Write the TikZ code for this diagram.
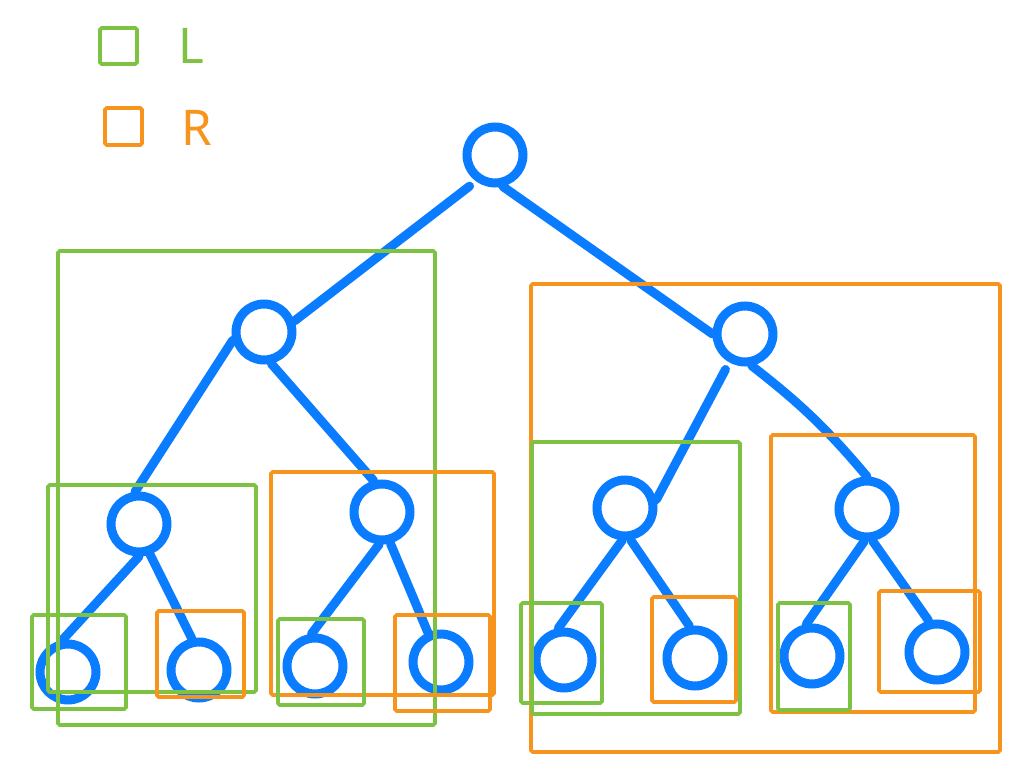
\documentclass[tikz,border=0pt]{standalone}
\usepackage{fontspec}
\setsansfont{Noto Sans}
\usepackage{xcolor}
\definecolor{treeblue}{RGB}{10,124,255}
\definecolor{lgreen}{RGB}{125,194,66}
\definecolor{rorange}{RGB}{247,148,29}

\begin{document}
\begin{tikzpicture}[x=0.2mm, y=-0.2mm,
  treenode/.style={circle, draw=treeblue, fill=white, line width=1.8mm, minimum size=11.2mm, inner sep=0pt},
  link/.style={draw=treeblue, line width=1.8mm, line cap=round},
  lbox/.style={draw=lgreen, line width=0.75mm, rounded corners=1pt},
  rbox/.style={draw=rorange, line width=0.75mm, rounded corners=1pt},
  legtext/.style={font=\sffamily\fontsize{28}{30}\selectfont}]
  \useasboundingbox (0,0) rectangle (1024,776);

  % Legend
  \draw[lbox] (100,28) rectangle (137,64);
  \node[legtext, lgreen] (legL) at (191,46) {L};
  \draw[rbox] (105,108) rectangle (142,145);
  \node[legtext, rorange] (legR) at (197,128) {R};

  % Tree nodes
  \node[treenode] (root) at (495,155) {};
  \node[treenode] (l) at (264,332) {};
  \node[treenode] (r) at (745,334) {};
  \node[treenode] (ll) at (139,524) {};
  \node[treenode] (lr) at (382,512) {};
  \node[treenode] (rl) at (625,508) {};
  \node[treenode] (rr) at (867,509) {};
  \node[treenode] (lll) at (68,672) {};
  \node[treenode] (llr) at (199,670) {};
  \node[treenode] (lrl) at (315,666) {};
  \node[treenode] (lrr) at (441,662) {};
  \node[treenode] (rll) at (564,660) {};
  \node[treenode] (rlr) at (695,658) {};
  \node[treenode] (rrl) at (812,656) {};
  \node[treenode] (rrr) at (937,652) {};

  % Edges
  \draw[link, shorten <=1.6mm] (root.234) -- (l.20);
  \draw[link] (root.284) -- (r.180);
  \draw[link] (l.195) -- (ll.97);
  \draw[link] (l.283) -- (lr.105);
  \draw[link, shorten <=1.6mm] (r.241) -- (rl.15);
  \draw[link] (r.282) to[bend left=6] (rr.north);
  \draw[link] (ll.south) -- (lll.100);
  \draw[link] (ll.290) -- (llr.103);
  \draw[link] (lr.265) -- (lrl.96);
  \draw[link] (lr.285) -- (lrr.114);
  \draw[link] (rl.265) -- (rll.100);
  \draw[link] (rl.280) -- (rlr.100);
  \draw[link] (rr.265) -- (rrl.100);
  \draw[link] (rr.280) -- (rrr.105);

  % Left subtrees
  \draw[lbox] (58,251) rectangle (435,725);
  \draw[lbox] (48,485) rectangle (256,692);
  \draw[lbox] (32,615) rectangle (126,709);
  \draw[rbox] (157,611) rectangle (244,697);
  \draw[rbox] (271,472) rectangle (494,695);
  \draw[lbox] (278,619) rectangle (364,705);
  \draw[rbox] (395,615) rectangle (490,711);

  % Right subtrees
  \draw[rbox] (531,284) rectangle (1000,752);
  \draw[lbox] (532,442) rectangle (740,714);
  \draw[lbox] (521,603) rectangle (602,703);
  \draw[rbox] (652,597) rectangle (736,702);
  \draw[rbox] (771,435) rectangle (975,712);
  \draw[lbox] (778,603) rectangle (850,710);
  \draw[rbox] (879,591) rectangle (980,692);
\end{tikzpicture}
\end{document}
